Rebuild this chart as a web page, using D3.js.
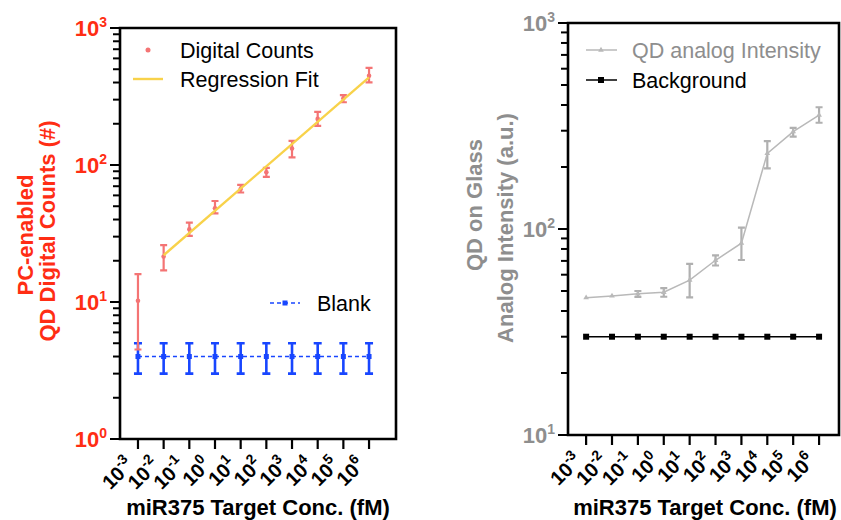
<!DOCTYPE html>
<html>
<head>
<meta charset="utf-8">
<script src="https://cdn.jsdelivr.net/npm/d3@7/dist/d3.min.js"></script>
<style>
  html, body { margin: 0; padding: 0; background: #fff; }
  svg { display: block; font-family: "Liberation Sans", Arial, Helvetica, sans-serif; }
</style>
</head>
<body>
<svg id="chart" width="841" height="520"></svg>
<script>
// Target concentration exponents (fM = 10^e)
const exponents = [-3, -2, -1, 0, 1, 2, 3, 4, 5, 6];

// Left panel: PC-enabled QD digital counts
const digitalMean = [10.2, 21.5, 34, 48.3, 66.8, 88.5, 132, 217, 307, 448];
const digitalLow  = [4.5, 17, 30.4, 44.4, 63, 82, 113.6, 193, 287, 401];
const digitalHigh = [16, 26, 38, 54.6, 71.5, 95.3, 150, 244, 324, 512];
const blankMean = [4, 4, 4, 4, 4, 4, 4, 4, 4, 4];
const blankLow  = [3, 3, 3, 3, 3, 3, 3, 3, 3, 3];
const blankHigh = [5, 5, 5, 5, 5, 5, 5, 5, 5, 5];
// exponents included in the regression fit
const fitExponents = [-2, -1, 0, 1, 2, 3, 4, 5, 6];

// Right panel: QD on glass analog intensity
const analogMean = [46.4, 47.3, 48.5, 49.3, 56.5, 70.5, 85.3, 233, 297, 357];
const analogLow  = [46.4, 47.3, 46.8, 46.9, 46.6, 66.5, 70.7, 197, 281, 328];
const analogHigh = [46.4, 47.3, 50, 51.6, 67.7, 74.5, 101.5, 267, 310, 390];
const background = [30, 30, 30, 30, 30, 30, 30, 30, 30, 30];

const leftYTicks = [1, 10, 100, 1000];
const rightYTicks = [10, 100, 1000];

const RED = "#ff2d14";
const POINT_RED = "#f47474";
const FIT_YELLOW = "#f8d24a";
const BLUE = "#1846ff";
const GREY_TEXT = "#8e8e8e";
const GREY_LINE = "#b9b9b9";

const svg = d3.select("#chart");
const FONT_TICK = 22;
const SUP = 14;

function minorTicks(lo, hi) {
  const out = [];
  for (let d = lo; d < hi; d *= 10) for (let k = 1; k <= 10; k++) out.push(d * k);
  return out.filter(v => v >= lo && v <= hi);
}

function drawFrame(g, x, y, yTicks, labelColor, yDomain) {
  const [x0, x1] = x.range();
  const [y0, y1] = y.range(); // y0 bottom, y1 top
  // minor/major ticks on y axis (outside, left)
  const all = minorTicks(yDomain[0], yDomain[1]);
  g.selectAll(".ytick").data(all).join("line")
    .attr("x1", x0).attr("x2", d => yTicks.includes(d) ? x0 - 10 : x0 - 7)
    .attr("y1", d => y(d)).attr("y2", d => y(d))
    .attr("stroke", "#000").attr("stroke-width", 2);
  // y tick labels 10^n
  const lab = g.selectAll(".ylab").data(yTicks).join("text")
    .attr("x", x0 - 13).attr("y", d => y(d) + 8)
    .attr("text-anchor", "end").attr("font-weight", "bold")
    .attr("font-size", FONT_TICK).attr("fill", labelColor);
  lab.append("tspan").text("10");
  lab.append("tspan").attr("dy", -9).attr("font-size", SUP)
    .text(d => String(Math.round(Math.log10(d))));
  // x ticks (outside, below)
  g.selectAll(".xtick").data(exponents).join("line")
    .attr("x1", d => x(Math.pow(10, d))).attr("x2", d => x(Math.pow(10, d)))
    .attr("y1", y0).attr("y2", y0 + 10)
    .attr("stroke", "#000").attr("stroke-width", 2.2);
  // rotated x tick labels
  const xl = g.selectAll(".xlab").data(exponents).join("text")
    .attr("text-anchor", "end").attr("font-weight", "bold").attr("font-size", 20)
    .attr("fill", "#000")
    .attr("transform", d => `translate(${x(Math.pow(10, d)) - 3},${y0 + 27}) rotate(-45)`);
  xl.append("tspan").text("10");
  xl.append("tspan").attr("dy", -9).attr("font-size", 14)
    .text(d => (d < 0 ? "-" : "") + Math.abs(d));
  // frame box
  g.append("path")
    .attr("d", `M${x0},${y1}V${y0}H${x1}V${y1}Z`)
    .attr("fill", "none").attr("stroke", "#000").attr("stroke-width", 2.6);
}

function errorBars(g, x, y, lo, hi, color, width, cap) {
  const rows = exponents.map((e, i) => ({ e, lo: lo[i], hi: hi[i] }))
    .filter(r => r.hi > r.lo);
  g.selectAll(null).data(rows).join("path")
    .attr("d", r => {
      const cx = x(Math.pow(10, r.e)), a = y(r.lo), b = y(r.hi);
      return `M${cx},${a}V${b}M${cx - cap},${a}H${cx + cap}M${cx - cap},${b}H${cx + cap}`;
    })
    .attr("fill", "none").attr("stroke", color).attr("stroke-width", width);
}

// ---------- Left panel ----------
const xL = d3.scaleLog().domain([Math.pow(10, -3.70), Math.pow(10, 7.05)]).range([120, 396]);
const yL = d3.scaleLog().domain([1, 1000]).range([439, 28]);
const gL = svg.append("g");

// blank: dashed line, error bars, square markers
errorBars(gL, xL, yL, blankLow, blankHigh, BLUE, 2.6, 4);
gL.append("path")
  .datum(exponents.map((e, i) => [e, blankMean[i]]))
  .attr("d", d3.line().x(d => xL(Math.pow(10, d[0]))).y(d => yL(d[1])))
  .attr("fill", "none").attr("stroke", BLUE).attr("stroke-width", 1.5)
  .attr("stroke-dasharray", "4,3");
gL.selectAll(".bm").data(exponents).join("rect")
  .attr("x", (d) => xL(Math.pow(10, d)) - 2.5).attr("y", (d, i) => yL(blankMean[i]) - 2.5)
  .attr("width", 5).attr("height", 5).attr("fill", BLUE);

// digital counts: error bars + points
errorBars(gL, xL, yL, digitalLow, digitalHigh, POINT_RED, 2.2, 3.5);
gL.selectAll(".dm").data(exponents).join("circle")
  .attr("cx", d => xL(Math.pow(10, d))).attr("cy", (d, i) => yL(digitalMean[i]))
  .attr("r", 2.3).attr("fill", POINT_RED);

// regression fit in log-log space
const fitPts = fitExponents.map(e => [e, Math.log10(digitalMean[exponents.indexOf(e)])]);
const mx = d3.mean(fitPts, p => p[0]), my = d3.mean(fitPts, p => p[1]);
const slope = d3.sum(fitPts, p => (p[0] - mx) * (p[1] - my)) / d3.sum(fitPts, p => (p[0] - mx) ** 2);
const fitLine = d3.extent(fitExponents).map(e => [e, Math.pow(10, my + slope * (e - mx))]);
gL.append("path").datum(fitLine)
  .attr("d", d3.line().x(d => xL(Math.pow(10, d[0]))).y(d => yL(d[1])))
  .attr("stroke", FIT_YELLOW).attr("stroke-width", 2.4).attr("fill", "none");

drawFrame(gL, xL, yL, leftYTicks, RED, [1, 1000]);

// left legend
gL.append("circle").attr("cx", 148).attr("cy", 50).attr("r", 2.5).attr("fill", POINT_RED);
gL.append("text").attr("x", 180).attr("y", 58).attr("font-size", 21.5).text("Digital Counts");
gL.append("line").attr("x1", 133).attr("x2", 163).attr("y1", 79).attr("y2", 79)
  .attr("stroke", FIT_YELLOW).attr("stroke-width", 2.4);
gL.append("text").attr("x", 180).attr("y", 87).attr("font-size", 21.5).text("Regression Fit");
gL.append("line").attr("x1", 270).attr("x2", 300).attr("y1", 303).attr("y2", 303)
  .attr("stroke", BLUE).attr("stroke-width", 1.5).attr("stroke-dasharray", "4,3");
gL.append("rect").attr("x", 282.5).attr("y", 300.5).attr("width", 5).attr("height", 5).attr("fill", BLUE);
gL.append("text").attr("x", 317).attr("y", 311).attr("font-size", 21.5).text("Blank");

// left axis titles
gL.append("text").attr("transform", "translate(33,235) rotate(-90)")
  .attr("text-anchor", "middle").attr("font-weight", "bold").attr("font-size", 22)
  .attr("fill", RED).text("PC-enabled");
gL.append("text").attr("transform", "translate(55,231) rotate(-90)")
  .attr("text-anchor", "middle").attr("font-weight", "bold").attr("font-size", 22)
  .attr("fill", RED).text("QD Digital Counts (#)");
gL.append("text").attr("x", 258).attr("y", 515).attr("text-anchor", "middle")
  .attr("font-weight", "bold").attr("font-size", 22).text("miR375 Target Conc. (fM)");

// ---------- Right panel ----------
const xR = d3.scaleLog().domain([Math.pow(10, -3.70), Math.pow(10, 6.77)]).range([568, 839]);
const yR = d3.scaleLog().domain([10, 1000]).range([435, 23]);
const gR = svg.append("g");

// background series
gR.append("path")
  .datum(exponents.map((e, i) => [e, background[i]]))
  .attr("d", d3.line().x(d => xR(Math.pow(10, d[0]))).y(d => yR(d[1])))
  .attr("fill", "none").attr("stroke", "#000").attr("stroke-width", 1.5);
gR.selectAll(".bg").data(exponents).join("rect")
  .attr("x", d => xR(Math.pow(10, d)) - 3).attr("y", (d, i) => yR(background[i]) - 3)
  .attr("width", 6).attr("height", 6).attr("fill", "#000");

// analog intensity series
errorBars(gR, xR, yR, analogLow, analogHigh, "#b0b0b0", 2.2, 3.5);
gR.append("path")
  .datum(exponents.map((e, i) => [e, analogMean[i]]))
  .attr("d", d3.line().x(d => xR(Math.pow(10, d[0]))).y(d => yR(d[1])))
  .attr("fill", "none").attr("stroke", GREY_LINE).attr("stroke-width", 1.5);
const tri = d3.symbol().type(d3.symbolTriangle).size(14);
gR.selectAll(".am").data(exponents).join("path")
  .attr("d", tri)
  .attr("transform", (d, i) => `translate(${xR(Math.pow(10, d))},${yR(analogMean[i])})`)
  .attr("fill", GREY_LINE);

drawFrame(gR, xR, yR, rightYTicks, GREY_TEXT, [10, 1000]);

// right legend
gR.append("line").attr("x1", 586).attr("x2", 617).attr("y1", 50).attr("y2", 50)
  .attr("stroke", GREY_LINE).attr("stroke-width", 1.5);
gR.append("path").attr("d", tri).attr("transform", "translate(601,50)").attr("fill", GREY_LINE);
gR.append("text").attr("x", 632).attr("y", 58).attr("font-size", 21.5)
  .attr("fill", GREY_TEXT).text("QD analog Intensity");
gR.append("line").attr("x1", 586).attr("x2", 617).attr("y1", 80).attr("y2", 80)
  .attr("stroke", "#000").attr("stroke-width", 1.5);
gR.append("rect").attr("x", 598).attr("y", 77).attr("width", 6).attr("height", 6).attr("fill", "#000");
gR.append("text").attr("x", 632).attr("y", 88).attr("font-size", 21.5).text("Background");

// right axis titles
gR.append("text").attr("transform", "translate(482,205) rotate(-90)")
  .attr("text-anchor", "middle").attr("font-weight", "bold").attr("font-size", 22)
  .attr("fill", GREY_TEXT).text("QD on Glass");
gR.append("text").attr("transform", "translate(513,228) rotate(-90)")
  .attr("text-anchor", "middle").attr("font-weight", "bold").attr("font-size", 22)
  .attr("fill", GREY_TEXT).text("Analog Intensity (a.u.)");
gR.append("text").attr("x", 705).attr("y", 515).attr("text-anchor", "middle")
  .attr("font-weight", "bold").attr("font-size", 22).text("miR375 Target Conc. (fM)");
</script>
</body>
</html>
